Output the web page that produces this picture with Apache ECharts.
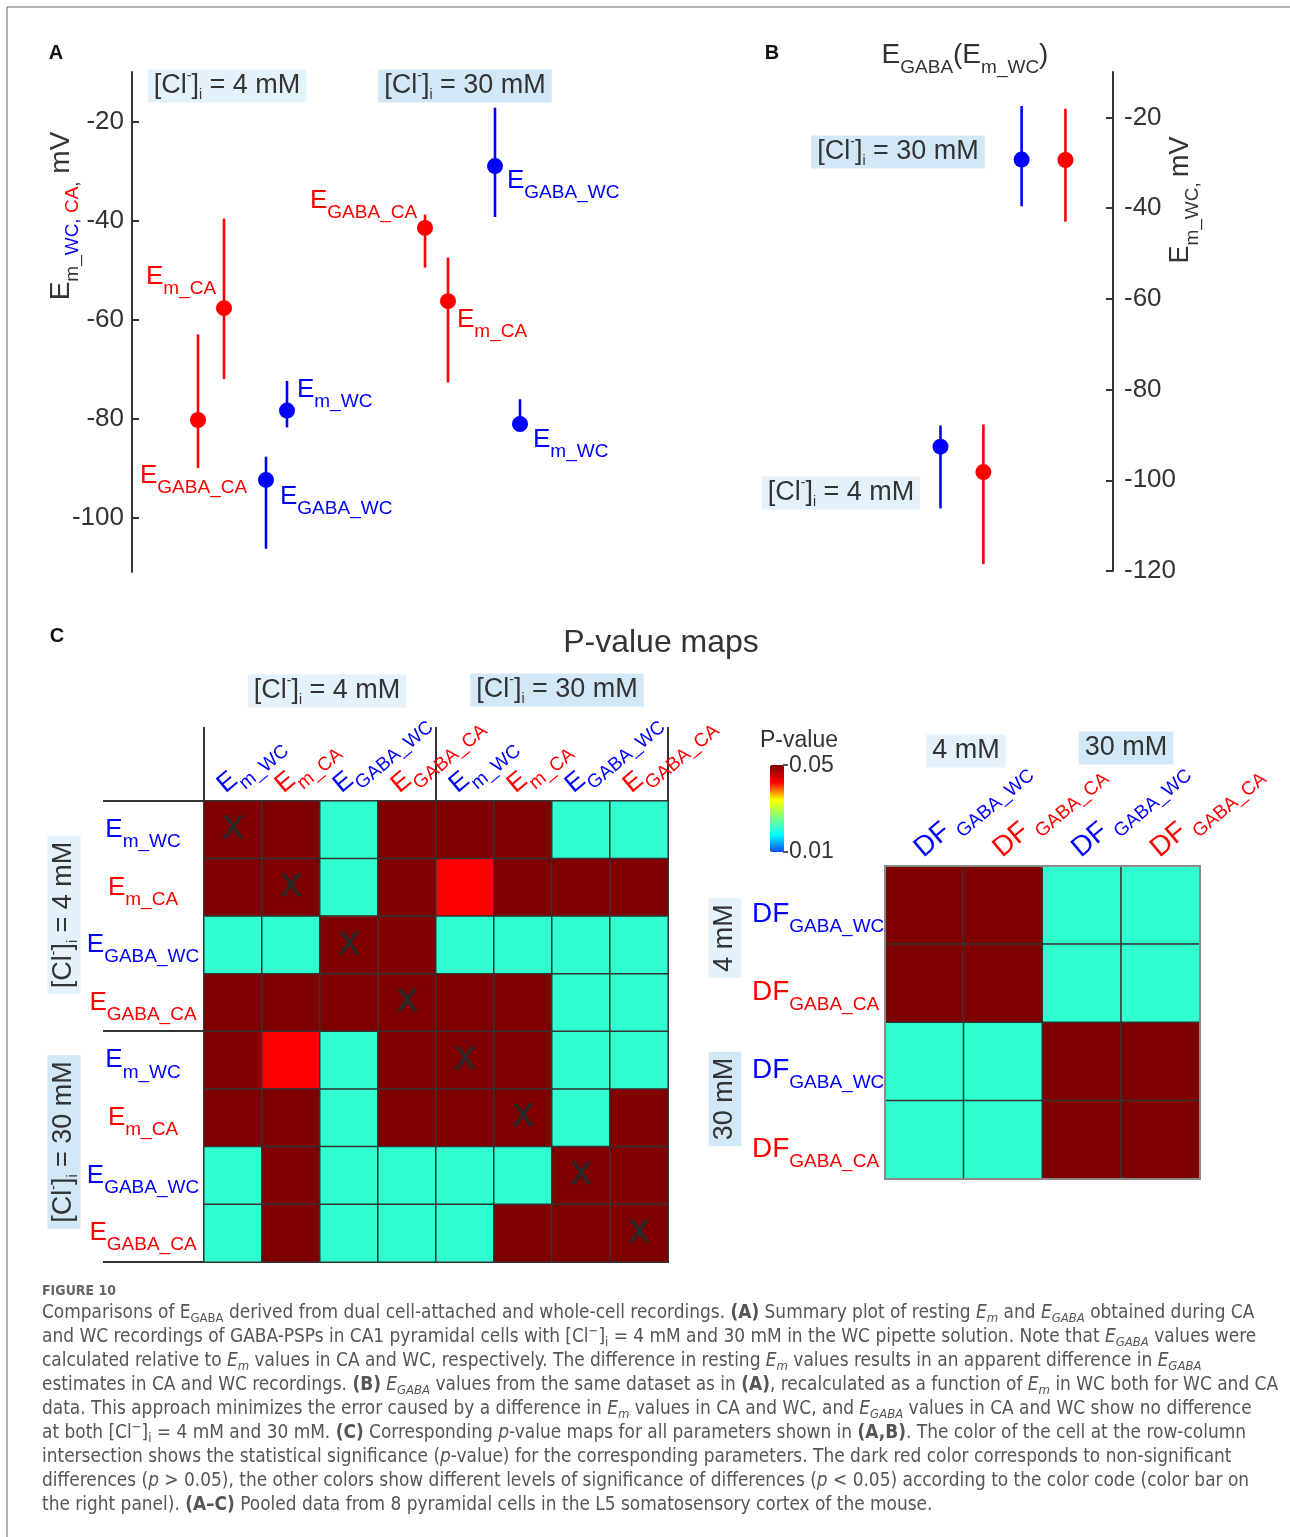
<!DOCTYPE html>
<html>
<head>
<meta charset="utf-8">
<title>Figure 10</title>
<script src="https://cdn.jsdelivr.net/npm/echarts@6/dist/echarts.min.js"></script>
<style>
html,body{margin:0;padding:0;background:#fff;}
#chart{width:1290px;height:1537px;}
</style>
</head>
<body>
<div id="chart"></div>
<script>
// ================= DATA =================
// Panel A: resting Em and EGABA (mV), CA (cell-attached) and WC (whole-cell)
const namesA = ['E_GABA_CA','E_m_CA','E_GABA_WC','E_m_WC','E_GABA_CA','E_m_CA','E_GABA_WC','E_m_WC'];
const clA    = ['4 mM','4 mM','4 mM','4 mM','30 mM','30 mM','30 mM','30 mM'];
const xA     = [0.66,0.92,1.34,1.55,2.93,3.16,3.63,3.88];
const meanA  = [-80.3,-57.7,-92.4,-78.4,-41.5,-56.3,-29.0,-81.1];
const lowA   = [-90.0,-72.0,-106.3,-81.8,-49.5,-72.7,-39.3,-82.0];
const highA  = [-63.0,-39.6,-87.7,-72.4,-38.8,-47.5,-17.2,-76.1];
const ticksA = [-100,-80,-60,-40,-20];

// Panel B: EGABA recalculated as a function of Em_WC (mV)
const namesB = ['E_GABA_WC','E_GABA_CA','E_GABA_WC','E_GABA_CA'];
const clB    = ['4 mM','4 mM','30 mM','30 mM'];
const xB     = [2.15,2.61,3.02,3.49];
const meanB  = [-92.6,-98.2,-29.3,-29.4];
const lowB   = [-106.2,-118.5,-39.6,-43.0];
const highB  = [-87.9,-87.7,-17.5,-18.1];
const ticksB = [-120,-100,-80,-60,-40,-20];

// Panel C (left): p-value map, rows/cols = parameters at [Cl-]i = 4 mM then 30 mM
// (values > 0.05 are non-significant; 1 = self comparison)
const paramsC = ['E_m_WC (4 mM)','E_m_CA (4 mM)','E_GABA_WC (4 mM)','E_GABA_CA (4 mM)',
                 'E_m_WC (30 mM)','E_m_CA (30 mM)','E_GABA_WC (30 mM)','E_GABA_CA (30 mM)'];
const pMapC = [
  [1,    0.5,  0.021,0.5,  0.5,  0.5,  0.021,0.021],
  [0.5,  1,    0.021,0.5,  0.042,0.5,  0.5,  0.5  ],
  [0.021,0.021,1,    0.5,  0.021,0.021,0.021,0.021],
  [0.5,  0.5,  0.5,  1,    0.5,  0.5,  0.021,0.021],
  [0.5,  0.042,0.021,0.5,  1,    0.5,  0.021,0.021],
  [0.5,  0.5,  0.021,0.5,  0.5,  1,    0.021,0.5  ],
  [0.021,0.5,  0.021,0.021,0.021,0.021,1,    0.5  ],
  [0.021,0.5,  0.021,0.021,0.021,0.5,  0.5,  1    ]
];
// Panel C (right): p-value map of DF_GABA
const paramsD = ['DF_GABA_WC (4 mM)','DF_GABA_CA (4 mM)','DF_GABA_WC (30 mM)','DF_GABA_CA (30 mM)'];
const pMapD = [
  [1,    0.5,  0.021,0.021],
  [0.5,  1,    0.021,0.021],
  [0.021,0.021,1,    0.5  ],
  [0.021,0.021,0.5,  1    ]
];
const pRange = [0.01, 0.05];

// ================= STYLE / LAYOUT =================
const FONT = "'Liberation Sans', Arial, Helvetica, sans-serif";
const CAPFONT = "'Liberation Sans Narrow', 'DejaVu Sans Condensed', 'Liberation Sans', sans-serif";
const BLUE = '#0000ff', RED = '#ff0000', INK = '#333333';
const BOX1 = '#e4f2fb', BOX2 = '#d2e8f6';
const CYAN_JET = ['#0a4cff','#00ffff','#7fff7f','#ffff00','#ff0000','#7f0000'];
const labelOffsetA = [[-58,56],[-78,-31],[14,17],[10,-21],[-115,-27],[9,19],[12,15],[13,16]];

function subRich(big, small, L) {
  const r = {};
  [['b',BLUE],['r',RED],['k',INK]].forEach(([k,c]) => {
    r['e'+k] = {fontSize:big, lineHeight:L, color:c, fill:c, fontFamily:FONT};
    r['s'+k] = {fontSize:small, lineHeight:small, verticalAlign:'bottom', color:c, fill:c, fontFamily:FONT};
  });
  return r;
}
function colorKey(n) { return n.indexOf('WC') >= 0 ? 'b' : 'r'; }
function subText(name, sep) {
  const n = name.split(' ')[0];
  const i = n.indexOf('_'); const k = colorKey(n);
  return '{e'+k+'|'+n.slice(0,i)+'}{s'+k+'|'+(sep||'')+n.slice(i+1)+'}';
}
function heatData(M) { const out=[]; M.forEach((row,r)=>row.forEach((p,c)=>out.push([c,r,p]))); return out; }

// ---------- graphic helpers ----------
const G = [];
function txt(x, y, text, style, extra) {
  G.push(Object.assign({type:'text', x:x, y:y, silent:true,
    style:Object.assign({text:text, fill:INK, fontFamily:FONT, fontSize:20, align:'center', verticalAlign:'middle'}, style)}, extra||{}));
}
function line(x1,y1,x2,y2,w,c) {
  G.push({type:'line', silent:true, shape:{x1:x1,y1:y1,x2:x2,y2:y2}, style:{stroke:c||INK, lineWidth:w||2}});
}
function clRich(size) {
  return {
    m:{fontSize:size, lineHeight:33, fill:INK, fontFamily:FONT},
    p:{fontSize:14, lineHeight:14, verticalAlign:'top', fill:INK, fontFamily:FONT},
    q:{fontSize:14, lineHeight:14, verticalAlign:'bottom', fill:INK, fontFamily:FONT}
  };
}
function clBox(cx, cy, conc, bg, rot) {
  txt(cx, cy, '{m|[Cl}{p|-}{m|]}{q|i}{m| = ' + conc + '}',
      {rich:clRich(27), backgroundColor:bg, padding:[0,6,0,6]}, rot ? {rotation:Math.PI/2} : null);
}
function plainBox(cx, cy, t, bg, rot) {
  txt(cx, cy, t, {fontSize:27, lineHeight:33, backgroundColor:bg, padding:[0,6,0,6]}, rot ? {rotation:Math.PI/2} : null);
}

// figure frame
line(7,7,1290,7,1,'#666');
line(7,7,7,1537,1,'#666');

// panel letters
txt(56,53,'A',{fontSize:20,fontWeight:'bold',fill:'#111'});
txt(772,53,'B',{fontSize:20,fontWeight:'bold',fill:'#111'});
txt(57,636,'C',{fontSize:20,fontWeight:'bold',fill:'#111'});

// Panel A annotations
clBox(227,86,'4 mM',BOX1);
clBox(465,86,'30 mM',BOX2);
txt(61,216,'{ek|E}{sk|m_}{sb|WC, }{sr|CA}{sk|,}{ek| mV}',{rich:subRich(28,19,43)},{rotation:Math.PI/2});

// Panel B annotations
txt(965,55,'{ek|E}{sk|GABA}{ek|(E}{sk|m_WC}{ek|)}',{rich:subRich(28,19,45)});
clBox(898,152,'30 mM',BOX2);
clBox(841,493,'4 mM',BOX1);
txt(1181,200,'{ek|E}{sk|m_WC}{sk|, }{ek|mV}',{rich:subRich(27,19,43)},{rotation:Math.PI/2});

// Panel C annotations
txt(661,643,'P-value maps',{fontSize:32});
clBox(327,691,'4 mM',BOX1);
clBox(557,690,'30 mM',BOX2);
clBox(64,915,'4 mM',BOX1,true);
clBox(64,1142,'30 mM',BOX2,true);
plainBox(966,751,'4 mM',BOX1);
plainBox(1126,748,'30 mM',BOX2);
plainBox(725,938,'4 mM',BOX1,true);
plainBox(725,1099,'30 mM',BOX2,true);
txt(799,741,'P-value',{fontSize:23});
txt(789,766,'0.05',{fontSize:23,align:'left'});
txt(789,852,'0.01',{fontSize:23,align:'left'});
line(783,765,788,765,1.5,'#222');
line(783,852,788,852,1.5,'#222');
// separator lines of the left p-value map
line(204,727,204,1263,2);
line(436,727,436,801,2);
line(668,727,668,801,2);
line(103,801,669,801,2);
line(103,1031,669,1031,2);
line(103,1262,669,1262,2);
// outline of right map
G.push({type:'rect', silent:true, z:10, shape:{x:885,y:866,width:315,height:313}, style:{fill:null, stroke:'#8a8a8a', lineWidth:2}});

// caption
const captionLines = [
 '{n|Comparisons of E}{s|GABA}{n| derived from dual cell-attached and whole-cell recordings. }{b|(A)}{n| Summary plot of resting }{i|E}{is|m}{n| and }{i|E}{is|GABA}{n| obtained during CA}',
 '{n|and WC recordings of GABA-PSPs in CA1 pyramidal cells with [Cl}{sp|−}{n|]}{s|i}{n| = 4 mM and 30 mM in the WC pipette solution. Note that }{i|E}{is|GABA}{n| values were}',
 '{n|calculated relative to }{i|E}{is|m}{n| values in CA and WC, respectively. The difference in resting }{i|E}{is|m}{n| values results in an apparent difference in }{i|E}{is|GABA}',
 '{n|estimates in CA and WC recordings. }{b|(B)}{n| }{i|E}{is|GABA}{n| values from the same dataset as in }{b|(A)}{n|, recalculated as a function of }{i|E}{is|m}{n| in WC both for WC and CA}',
 '{n|data. This approach minimizes the error caused by a difference in }{i|E}{is|m}{n| values in CA and WC, and }{i|E}{is|GABA}{n| values in CA and WC show no difference}',
 '{n|at both [Cl}{sp|−}{n|]}{s|i}{n| = 4 mM and 30 mM. }{b|(C)}{n| Corresponding }{i|p}{n|-value maps for all parameters shown in }{b|(A,B)}{n|. The color of the cell at the row-column}',
 '{n|intersection shows the statistical significance (}{i|p}{n|-value) for the corresponding parameters. The dark red color corresponds to non-significant}',
 '{n|differences (}{i|p}{n| > 0.05), the other colors show different levels of significance of differences (}{i|p}{n| < 0.05) according to the color code (color bar on}',
 '{n|the right panel). }{b|(A–C)}{n| Pooled data from 8 pyramidal cells in the L5 somatosensory cortex of the mouse.}'
];
const CAPC = '#555555', CAPS = 18.9;
const capRich = {
  n:{fontSize:CAPS, lineHeight:24, fill:CAPC, fontFamily:CAPFONT},
  i:{fontSize:CAPS, lineHeight:24, fill:CAPC, fontFamily:CAPFONT, fontStyle:'italic'},
  b:{fontSize:CAPS, lineHeight:24, fill:CAPC, fontFamily:CAPFONT, fontWeight:'bold'},
  s:{fontSize:13, lineHeight:13, verticalAlign:'bottom', fill:CAPC, fontFamily:CAPFONT},
  is:{fontSize:13, lineHeight:13, verticalAlign:'bottom', fill:CAPC, fontFamily:CAPFONT, fontStyle:'italic'},
  sp:{fontSize:13, lineHeight:13, verticalAlign:'top', fill:CAPC, fontFamily:CAPFONT}
};
txt(42,1291,'FIGURE 10',{fontSize:14,fontWeight:'bold',fill:'#666',fontFamily:CAPFONT,align:'left'});
captionLines.forEach((s,i)=>txt(42,1313+24*i,s,{rich:capRich,align:'left'}));

// ================= SERIES DATA =================
const colorOf = n => n.indexOf('WC') >= 0 ? BLUE : RED;
const errA = namesA.map((n,i)=>({name:n, value:[xA[i],lowA[i],highA[i]], itemStyle:{color:colorOf(n)}}));
const ptsA = namesA.map((n,i)=>({name:n, group:clA[i], value:[xA[i],meanA[i]], itemStyle:{color:colorOf(n), opacity:1},
  label:{offset:labelOffsetA[i]}}));
const errB = namesB.map((n,i)=>({name:n, value:[xB[i],lowB[i],highB[i]], itemStyle:{color:colorOf(n)}}));
const ptsB = namesB.map((n,i)=>({name:n, value:[xB[i],meanB[i]], itemStyle:{color:colorOf(n), opacity:1}}));

function errRender(params, api) {
  const x = api.value(0);
  const p1 = api.coord([x, api.value(1)]), p2 = api.coord([x, api.value(2)]);
  return {type:'line', shape:{x1:p1[0],y1:p1[1],x2:p2[0],y2:p2[1]}, style:{stroke:api.visual('color'), lineWidth:2.6}};
}

const valueY = (grid, min, max, pos, ticks, margin) => ({
  gridIndex:grid, type:'value', min:min, max:max, position:pos,
  axisLine:{show:true, onZero:false, lineStyle:{color:INK, width:2}},
  axisTick:{show:true, inside:true, length:7, lineStyle:{color:INK, width:2}, customValues:ticks},
  axisLabel:{show:true, customValues:ticks, fontSize:26, color:INK, fontFamily:FONT, margin:margin},
  splitLine:{show:false}
});
const catAxisBase = (grid, data) => ({gridIndex:grid, type:'category', data:data,
  axisLine:{show:false}, axisTick:{show:false}, splitLine:{show:false}});

const richCellE = subRich(26,19,43);
const richCellDF = subRich(28,19,44);

const option = {
  animation:false,
  backgroundColor:'#ffffff',
  textStyle:{fontFamily:FONT},
  grid:[
    {left:132, top:72, width:500, height:500, containLabel:false, outerBoundsMode:'none'},
    {left:740, top:72, width:373, height:499, containLabel:false, outerBoundsMode:'none'},
    {left:204, top:801, width:464, height:461, containLabel:false, outerBoundsMode:'none'},
    {left:192, top:801, width:464, height:461, containLabel:false, outerBoundsMode:'none'},
    {left:885, top:866, width:315, height:313, containLabel:false, outerBoundsMode:'none'},
    {left:879, top:866, width:315, height:313, containLabel:false, outerBoundsMode:'none'}
  ],
  xAxis:[
    {gridIndex:0, type:'value', min:0, max:5, show:false},
    {gridIndex:1, type:'value', min:0, max:4, show:false},
    Object.assign(catAxisBase(2, paramsC), {axisLabel:{show:false}}),
    Object.assign(catAxisBase(3, paramsC), {position:'top', axisLabel:{show:true, interval:0, rotate:40, margin:13,
      formatter:v=>subText(v), rich:richCellE}}),
    Object.assign(catAxisBase(4, paramsD), {axisLabel:{show:false}}),
    Object.assign(catAxisBase(5, paramsD), {position:'top', axisLabel:{show:true, interval:0, rotate:40, margin:14,
      formatter:v=>subText(v,' '), rich:richCellDF}})
  ],
  yAxis:[
    valueY(0, -111, -10, 'left', ticksA, 8),
    valueY(1, -120, -10, 'right', ticksB, 11),
    Object.assign(catAxisBase(2, paramsC), {inverse:true, axisLabel:{show:true, interval:0, align:'center', margin:61,
      formatter:v=>subText(v), rich:richCellE}}),
    {gridIndex:3, type:'value', show:false},
    Object.assign(catAxisBase(4, paramsD), {inverse:true, axisLabel:{show:true, interval:0, align:'left', margin:133,
      padding:[18,0,0,0], formatter:v=>subText(v), rich:richCellDF}}),
    {gridIndex:5, type:'value', show:false}
  ],
  visualMap:{
    type:'continuous', min:pRange[0], max:pRange[1], seriesIndex:[4,5], dimension:2,
    orient:'vertical', left:770, top:765, itemWidth:14, itemHeight:87, padding:0,
    calculable:false, hoverLink:false, text:null,
    inRange:{color:CYAN_JET}, outOfRange:{color:'#7f0000'}
  },
  graphic:{elements:G},
  series:[
    {type:'custom', name:'errA', xAxisIndex:0, yAxisIndex:0, renderItem:errRender, data:errA, z:2, silent:true},
    {type:'scatter', name:'A', xAxisIndex:0, yAxisIndex:0, data:ptsA, symbol:'circle', symbolSize:16, z:3, silent:true,
      itemStyle:{opacity:1},
      label:{show:true, position:'inside', align:'left', verticalAlign:'middle',
        formatter:p=>subText(p.name), rich:subRich(26,19,43)}},
    {type:'custom', name:'errB', xAxisIndex:1, yAxisIndex:1, renderItem:errRender, data:errB, z:2, silent:true},
    {type:'scatter', name:'B', xAxisIndex:1, yAxisIndex:1, data:ptsB, symbol:'circle', symbolSize:16, z:3, silent:true,
      itemStyle:{opacity:1}},
    {type:'heatmap', name:'pC', xAxisIndex:2, yAxisIndex:2, data:heatData(pMapC), silent:true,
      itemStyle:{borderColor:'#333', borderWidth:1.5},
      label:{show:true, formatter:p=>p.value[0]===p.value[1]?'X':'', fontSize:31, color:'#2a2a2a', fontFamily:FONT,
        textBorderColor:'#2a2a2a', textBorderWidth:1},
      emphasis:{disabled:true}},
    {type:'heatmap', name:'pD', xAxisIndex:4, yAxisIndex:4, data:heatData(pMapD), silent:true,
      itemStyle:{borderColor:'#333', borderWidth:1.5}, label:{show:false}, emphasis:{disabled:true}}
  ]
};
const chart = echarts.init(document.getElementById('chart'), null, {renderer:'canvas', width:1290, height:1537});
chart.setOption(option);
</script>
</body>
</html>
